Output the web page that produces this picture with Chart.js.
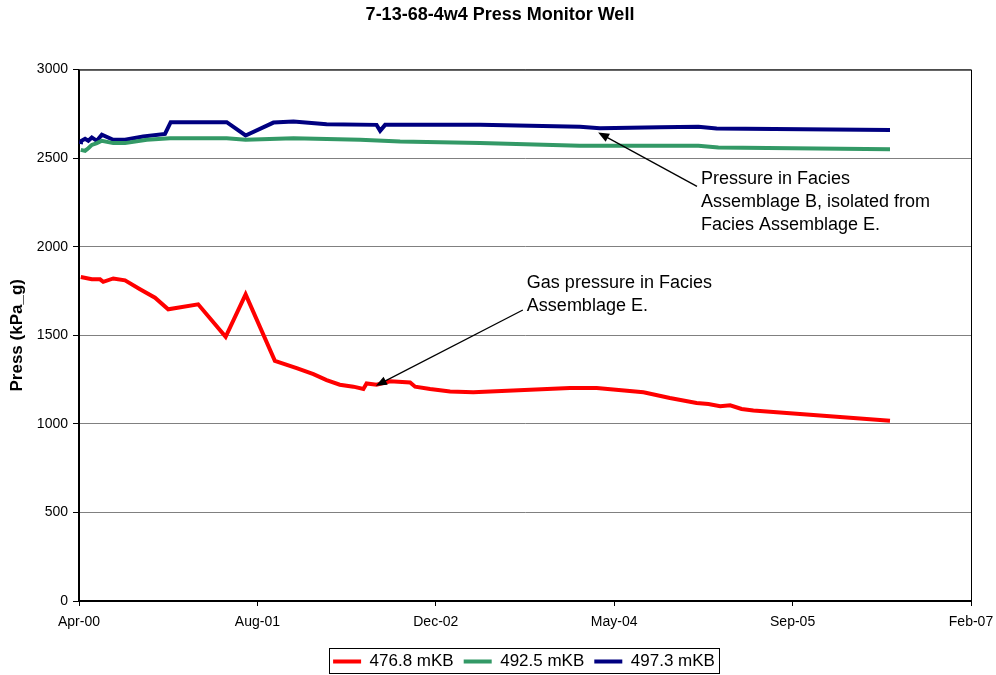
<!DOCTYPE html>
<html>
<head>
<meta charset="utf-8">
<script src="https://cdn.jsdelivr.net/npm/chart.js@4.4.1/dist/chart.umd.min.js"></script>
<style>
  html, body { margin: 0; padding: 0; background: #fff; }
  #wrap { width: 996px; height: 675px; }
</style>
</head>
<body>
<div id="wrap"><canvas id="pressChart" width="996" height="675"></canvas></div>
<script>
// x values are days since 1 Apr 2000
const seriesNames = ['476.8 mKB', '492.5 mKB', '497.3 mKB'];
const seriesColors = ['#FF0000', '#339966', '#000080'];

const redDays = [5, 36, 59, 68, 96, 129, 171, 213, 250, 334, 411, 467, 549, 610, 657, 694, 731, 769, 797, 806, 834, 872, 928, 942, 984, 1040, 1105, 1376, 1451, 1582, 1656, 1731, 1764, 1797, 1825, 1857, 1890, 2273];
const redValues = [1829, 1816, 1816, 1802, 1821, 1810, 1760, 1712, 1647, 1675, 1491, 1731, 1356, 1315, 1281, 1247, 1221, 1210, 1197, 1228, 1221, 1240, 1234, 1210, 1197, 1183, 1178, 1202, 1202, 1178, 1146, 1118, 1112, 1099, 1105, 1084, 1075, 1018];

const greenDays = [5, 17, 26, 36, 50, 64, 96, 129, 190, 255, 414, 467, 601, 788, 900, 1124, 1404, 1684, 1736, 1792, 2273];
const greenValues = [2547, 2541, 2556, 2575, 2585, 2598, 2585, 2585, 2604, 2613, 2613, 2604, 2613, 2604, 2594, 2585, 2570, 2570, 2570, 2560, 2551];

const blueDays = [5, 7, 17, 26, 36, 50, 64, 96, 129, 180, 241, 257, 414, 467, 545, 601, 694, 834, 844, 858, 900, 1124, 1404, 1460, 1628, 1736, 1787, 2273];
const blueValues = [2579, 2598, 2609, 2598, 2617, 2598, 2632, 2604, 2604, 2622, 2637, 2703, 2703, 2628, 2701, 2707, 2691, 2688, 2654, 2688, 2688, 2688, 2678, 2669, 2674, 2678, 2667, 2659];

const monthNames = ['Jan', 'Feb', 'Mar', 'Apr', 'May', 'Jun', 'Jul', 'Aug', 'Sep', 'Oct', 'Nov', 'Dec'];

// callouts: arrow tip and tail in data units, text lines next to the tail
const notes = [
  { tip: [1455, 2645], tail: [1732, 2341], lines: ['Pressure in Facies', 'Assemblage B, isolated from', 'Facies Assemblage E.'], dx: 4, dy: -7 },
  { tip: [832, 1215], tail: [1244, 1643], lines: ['Gas pressure in Facies', 'Assemblage E.'], dx: 4, dy: -27 }
];

function toPoints (days, values) {
  return days.map((d, i) => ({ x: d, y: values[i] }));
}

function dayLabel (v) {
  const d = new Date(Date.UTC(2000, 3, 1) + v * 86400000);
  return monthNames[d.getUTCMonth()] + '-' + String(d.getUTCFullYear() % 100).padStart(2, '0');
}

const fontFam = '"Liberation Sans", Arial, sans-serif';

// Plot frame, callouts, title/legend placement and legend border
const extras = {
  id: 'extras',
  afterLayout (chart) {
    // Excel put the legend and title a bit right of the canvas centre
    const lg = chart.legend;
    const shift = 524 - (lg.left + lg.right) / 2;
    lg.left += shift;
    lg.right += shift;
    const tb = chart.titleBlock;
    const tshift = 500 - (tb.left + tb.right) / 2;
    tb.left += tshift;
    tb.right += tshift;
  },
  beforeDatasetsDraw (chart) {
    const { ctx, chartArea: a } = chart;
    ctx.save();
    ctx.strokeStyle = '#000';
    ctx.lineWidth = 1;
    ctx.strokeRect(a.left + 0.5, a.top + 0.5, a.right - a.left, a.bottom - a.top);
    ctx.restore();
  },
  afterDatasetsDraw (chart) {
    const { ctx, scales } = chart;
    const xs = scales.x, ys = scales.y;
    ctx.save();
    notes.forEach(n => {
      const tx = xs.getPixelForValue(n.tip[0]), ty = ys.getPixelForValue(n.tip[1]);
      const sx = xs.getPixelForValue(n.tail[0]), sy = ys.getPixelForValue(n.tail[1]);
      const ang = Math.atan2(ty - sy, tx - sx);
      ctx.strokeStyle = '#000';
      ctx.fillStyle = '#000';
      ctx.lineWidth = 1.3;
      ctx.beginPath();
      ctx.moveTo(sx, sy);
      ctx.lineTo(tx - 8 * Math.cos(ang), ty - 8 * Math.sin(ang));
      ctx.stroke();
      ctx.beginPath();
      ctx.moveTo(tx, ty);
      ctx.lineTo(tx - 11 * Math.cos(ang) + 4.5 * Math.sin(ang), ty - 11 * Math.sin(ang) - 4.5 * Math.cos(ang));
      ctx.lineTo(tx - 11 * Math.cos(ang) - 4.5 * Math.sin(ang), ty - 11 * Math.sin(ang) + 4.5 * Math.cos(ang));
      ctx.closePath();
      ctx.fill();
      ctx.font = '18px ' + fontFam;
      ctx.textBaseline = 'middle';
      ctx.textAlign = 'left';
      n.lines.forEach((t, i) => {
        ctx.fillText(t, sx + n.dx, sy + n.dy + i * 23);
      });
    });
    ctx.restore();
  },
  afterDraw (chart) {
    const boxes = chart.legend.legendHitBoxes;
    if (!boxes || !boxes.length) return;
    const { ctx } = chart;
    const left = Math.min(...boxes.map(b => b.left)) - 4;
    const right = Math.max(...boxes.map(b => b.left + b.width)) + 4;
    const top = Math.min(...boxes.map(b => b.top)) - 5;
    const bottom = Math.max(...boxes.map(b => b.top + b.height)) + 3;
    ctx.save();
    ctx.strokeStyle = '#000';
    ctx.lineWidth = 1;
    ctx.strokeRect(Math.round(left) + 0.5, Math.round(top) + 0.5, Math.round(right - left), Math.round(bottom - top));
    ctx.restore();
  }
};

const datasets = [
  toPoints(redDays, redValues),
  toPoints(greenDays, greenValues),
  toPoints(blueDays, blueValues)
].map((pts, i) => ({
  label: seriesNames[i],
  data: pts,
  borderColor: seriesColors[i],
  backgroundColor: seriesColors[i],
  borderWidth: 4,
  pointRadius: 0,
  tension: 0,
  fill: false
}));

new Chart(document.getElementById('pressChart').getContext('2d'), {
  type: 'line',
  data: { datasets: datasets },
  plugins: [extras],
  options: {
    responsive: false,
    animation: false,
    layout: { padding: { left: 0, right: 25, top: 0, bottom: -5 } },
    plugins: {
      title: {
        display: true,
        text: '7-13-68-4w4 Press Monitor Well',
        color: '#000',
        font: { family: fontFam, size: 18, weight: 'bold' },
        padding: { top: 4, bottom: 44 }
      },
      legend: {
        position: 'bottom',
        labels: {
          color: '#000',
          font: { family: fontFam, size: 17 },
          boxWidth: 28,
          boxHeight: 4,
          padding: 10,
          generateLabels (chart) {
            return chart.data.datasets.map((ds, i) => ({
              text: ds.label,
              fillStyle: ds.borderColor,
              strokeStyle: ds.borderColor,
              lineWidth: 0,
              fontColor: '#000',
              datasetIndex: i
            }));
          }
        }
      },
      tooltip: { enabled: false }
    },
    scales: {
      x: {
        type: 'linear',
        min: 0,
        max: 2500,
        border: { color: '#000', width: 1.5 },
        grid: { drawOnChartArea: false, color: '#000', tickLength: 5 },
        ticks: {
          stepSize: 500,
          color: '#000',
          padding: 8,
          maxRotation: 0,
          font: { family: fontFam, size: 14 },
          callback: v => dayLabel(v)
        },
        afterFit: s => { s.height = 42; s.paddingRight = 0; s.paddingLeft = 0; }
      },
      y: {
        min: 0,
        max: 3000,
        border: { color: '#000', width: 1.5 },
        grid: { color: '#808080', tickColor: '#000', tickLength: 6 },
        title: {
          display: true,
          text: 'Press (kPa_g)',
          color: '#000',
          font: { family: fontFam, size: 17, weight: 'bold' },
          padding: { top: 7, bottom: 10 }
        },
        ticks: {
          stepSize: 500,
          color: '#000',
          padding: 5,
          font: { family: fontFam, size: 14 },
          callback: v => String(v)
        },
        afterFit: s => { s.width = 79; }
      }
    }
  }
});
</script>
</body>
</html>
